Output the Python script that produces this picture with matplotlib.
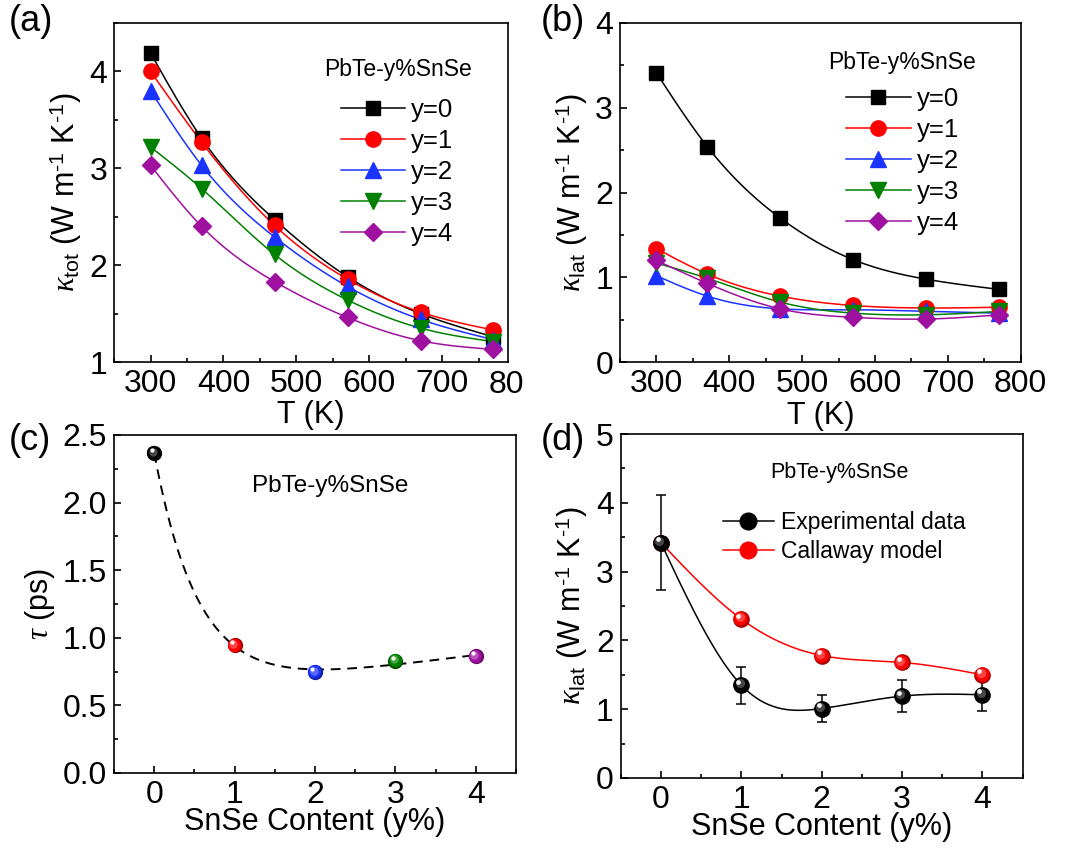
import numpy as np
import matplotlib
matplotlib.use("Agg")
import matplotlib.pyplot as plt
from matplotlib.transforms import ScaledTranslation, Bbox, blended_transform_factory
from matplotlib.ticker import MultipleLocator

plt.rcParams['font.family'] = ['Liberation Sans', 'DejaVu Sans']
plt.rcParams['mathtext.fontset'] = 'custom'
plt.rcParams['mathtext.rm'] = 'Liberation Sans'
plt.rcParams['mathtext.it'] = 'Liberation Serif:italic'
plt.rcParams['mathtext.bf'] = 'Liberation Sans:bold'

# ---------------- data ----------------
T = [300, 370, 470, 570, 670, 770]
series_labels = ['y=0', 'y=1', 'y=2', 'y=3', 'y=4']
k_tot = [
    [4.19, 3.31, 2.47, 1.88, 1.50, 1.26],
    [4.00, 3.27, 2.41, 1.855, 1.515, 1.33],
    [3.80, 3.03, 2.29, 1.78, 1.44, 1.23],
    [3.22, 2.79, 2.11, 1.64, 1.35, 1.21],
    [3.03, 2.40, 1.83, 1.46, 1.22, 1.13],
]
k_lat = [
    [3.41, 2.54, 1.70, 1.21, 0.98, 0.86],
    [1.34, 1.04, 0.78, 0.67, 0.64, 0.65],
    [1.02, 0.78, 0.63, 0.62, 0.60, 0.58],
    [1.17, 0.99, 0.71, 0.58, 0.56, 0.60],
    [1.20, 0.93, 0.63, 0.53, 0.51, 0.56],
]
content = [0, 1, 2, 3, 4]
tau = [2.365, 0.943, 0.746, 0.828, 0.862]
k_exp = [3.42, 1.35, 1.01, 1.19, 1.21]
k_exp_err = [0.69, 0.27, 0.20, 0.23, 0.24]
k_callaway = [3.42, 2.31, 1.78, 1.68, 1.50]

colors = ['#000000', '#FF0000', '#1A33FF', '#008000', '#A010A0']
markers = ['s', 'o', '^', 'v', 'D']
msizes = [10, 11, 11, 11, 9.5]

TICK_FS = 23
LABEL_FS = 22
HY = '\u2010'  # hyphen for exponents
UNIT = r'(W m$^{\rm ' + HY + r'1}$ K$^{\rm ' + HY + r'1}$)'


def cspline(x, y, n=300):
    x = np.asarray(x, float); y = np.asarray(y, float)
    m = len(x); h = np.diff(x)
    A = np.zeros((m, m)); b = np.zeros(m)
    A[0, 0] = 1; A[-1, -1] = 1
    for i in range(1, m - 1):
        A[i, i - 1] = h[i - 1]; A[i, i] = 2 * (h[i - 1] + h[i]); A[i, i + 1] = h[i]
        b[i] = 3 * ((y[i + 1] - y[i]) / h[i] - (y[i] - y[i - 1]) / h[i - 1])
    c = np.linalg.solve(A, b)
    xs = np.linspace(x[0], x[-1], n)
    idx = np.clip(np.searchsorted(x, xs) - 1, 0, m - 2)
    dx = xs - x[idx]
    bc = (y[1:] - y[:-1]) / h - h * (2 * c[:-1] + c[1:]) / 3
    d = (c[1:] - c[:-1]) / (3 * h)
    ys = y[idx] + bc[idx] * dx + c[idx] * dx ** 2 + d[idx] * dx ** 3
    return xs, ys


def expfit(x, y, n=300):
    x = np.asarray(x, float); y = np.asarray(y, float)
    best = None
    for t in np.linspace(0.2, 3, 300):
        M = np.column_stack([np.exp(-x / t), np.ones_like(x), x])
        coef, *_ = np.linalg.lstsq(M, y, rcond=None)
        r = np.sum((M @ coef - y) ** 2)
        if best is None or r < best[0]:
            best = (r, t, coef)
    _, t, coef = best
    xs = np.linspace(x[0], x[-1], n)
    ys = coef[0] * np.exp(-xs / t) + coef[1] + coef[2] * xs
    return xs, ys


def lighten(c, f):
    rgb = np.array(matplotlib.colors.to_rgb(c))
    return tuple(rgb + (1 - rgb) * f)


def darken(c, f):
    rgb = np.array(matplotlib.colors.to_rgb(c))
    return tuple(rgb * (1 - f))


def sphere(ax, x, y, color, size, zorder=5):
    fig = ax.figure
    ax.plot(x, y, 'o', ms=size, color=darken(color, 0.35), mew=0, zorder=zorder)
    off0 = ax.transData + ScaledTranslation(-size * 0.05 / 72, size * 0.05 / 72, fig.dpi_scale_trans)
    ax.plot(x, y, 'o', ms=size * 0.85, color=color, mew=0, transform=off0, zorder=zorder + 0.05)
    off1 = ax.transData + ScaledTranslation(-size * 0.1 / 72, size * 0.1 / 72, fig.dpi_scale_trans)
    ax.plot(x, y, 'o', ms=size * 0.55, color=lighten(color, 0.35), mew=0, alpha=0.8,
            transform=off1, zorder=zorder + 0.1)
    off2 = ax.transData + ScaledTranslation(-size * 0.18 / 72, size * 0.2 / 72, fig.dpi_scale_trans)
    ax.plot(x, y, 'o', ms=size * 0.28, color='white', mew=0, alpha=0.95,
            transform=off2, zorder=zorder + 0.2)


def style(ax):
    ax.tick_params(which='both', direction='in', top=False, right=False, labelsize=TICK_FS,
                   width=1.2)
    ax.tick_params(which='major', length=5, pad=5)
    ax.tick_params(which='minor', length=3)
    for s in ax.spines.values():
        s.set_linewidth(1.2)


fig = plt.figure(figsize=(10.78, 8.51), dpi=100)
axa = fig.add_axes([0.1058, 0.5746, 0.3655, 0.3984])
axb = fig.add_axes([0.5751, 0.5742, 0.3717, 0.3990])
axc = fig.add_axes([0.1058, 0.0917, 0.3729, 0.3972])
axd = fig.add_axes([0.5758, 0.0858, 0.3729, 0.4042])

# ---- (a)
for i in range(5):
    xs, ys = cspline(T, k_tot[i])
    axa.plot(xs, ys, color=colors[i], lw=1.1, zorder=2)
    axa.plot(T, k_tot[i], linestyle='none', marker=markers[i], ms=msizes[i],
             color=colors[i], zorder=3)
for i in range(5):
    axa.plot([], [], color=colors[i], lw=1.1, marker=markers[i], ms=msizes[i],
             label=series_labels[i])
axa.set_xlim(250, 790)
axa.set_ylim(1, 4.5)
axa.xaxis.set_major_locator(MultipleLocator(100))
axa.xaxis.set_minor_locator(MultipleLocator(50))
axa.yaxis.set_major_locator(MultipleLocator(1))
axa.yaxis.set_minor_locator(MultipleLocator(0.5))
style(axa)
axa.set_xlabel('T (K)', fontsize=LABEL_FS, labelpad=1)
axa.set_ylabel(r'$\kappa_{\rm tot}$ ' + UNIT, fontsize=LABEL_FS, labelpad=4)
axa.text(0.72, 0.864, 'PbTe-y%SnSe', transform=axa.transAxes, fontsize=16.5,
         ha='center', va='center')
axa.legend(loc='upper left', bbox_to_anchor=(0.575, 0.778), frameon=False, fontsize=18.5,
           handlelength=2.5, handletextpad=0.25, labelspacing=0.27, borderpad=0,
           borderaxespad=0)
# the "800" tick label of panel (a) is partly hidden by panel (b) in the original
tr = blended_transform_factory(axa.transData, axa.transAxes)
t800 = axa.text(800, -0.025, '800', transform=tr, ha='center', va='top', fontsize=TICK_FS,
                clip_on=True)
t800.set_clip_box(Bbox.from_extents(0, 0, 523, 851))

# ---- (b)
for i in range(5):
    xs, ys = cspline(T, k_lat[i])
    axb.plot(xs, ys, color=colors[i], lw=1.1, zorder=2)
    axb.plot(T, k_lat[i], linestyle='none', marker=markers[i], ms=msizes[i],
             color=colors[i], zorder=3)
for i in range(5):
    axb.plot([], [], color=colors[i], lw=1.1, marker=markers[i], ms=msizes[i],
             label=series_labels[i])
axb.set_xlim(250, 800)
axb.set_ylim(0, 4)
axb.xaxis.set_major_locator(MultipleLocator(100))
axb.xaxis.set_minor_locator(MultipleLocator(50))
axb.yaxis.set_major_locator(MultipleLocator(1))
axb.yaxis.set_minor_locator(MultipleLocator(0.5))
style(axb)
axb.set_xlabel('T (K)', fontsize=LABEL_FS, labelpad=1)
axb.set_ylabel(r'$\kappa_{\rm lat}$ ' + UNIT, fontsize=LABEL_FS, labelpad=4)
axb.text(0.703, 0.884, 'PbTe-y%SnSe', transform=axb.transAxes, fontsize=16.5,
         ha='center', va='center')
axb.legend(loc='upper left', bbox_to_anchor=(0.565, 0.81), frameon=False, fontsize=18.5,
           handlelength=2.5, handletextpad=0.25, labelspacing=0.27, borderpad=0,
           borderaxespad=0)

# ---- (c)
xs, ys = expfit(content, tau)
axc.plot(xs, ys, color='black', lw=1.4, ls=(0, (5, 3.5)), zorder=2)
for i in range(5):
    sphere(axc, [content[i]], [tau[i]], colors[i], 11)
axc.set_xlim(-0.5, 4.5)
axc.set_ylim(0, 2.5)
axc.xaxis.set_major_locator(MultipleLocator(1))
axc.xaxis.set_minor_locator(MultipleLocator(0.5))
axc.yaxis.set_major_locator(MultipleLocator(0.5))
axc.yaxis.set_minor_locator(MultipleLocator(0.25))
axc.yaxis.set_major_formatter(matplotlib.ticker.FormatStrFormatter('%.1f'))
style(axc)
axc.set_xlabel('SnSe Content (y%)', fontsize=LABEL_FS, labelpad=-2)
axc.set_ylabel(r'$\tau$ (ps)', fontsize=LABEL_FS, labelpad=4)
axc.text(0.537, 0.85, 'PbTe-y%SnSe', transform=axc.transAxes, fontsize=17.5,
         ha='center', va='center')

# ---- (d)
xs, ys = cspline(content, k_exp)
axd.plot(xs, ys, color='black', lw=1.1, zorder=2)
axd.errorbar(content, k_exp, yerr=k_exp_err, fmt='none', ecolor='black', elinewidth=1.1,
             capsize=3.5, capthick=1.1, zorder=3)
xs, ys = cspline(content, k_callaway)
axd.plot(xs, ys, color='#FF0000', lw=1.1, zorder=2)
sphere(axd, content, k_exp, '#000000', 12, zorder=5)
sphere(axd, content, k_callaway, '#FF0000', 12, zorder=4)
axd.plot([], [], color='black', lw=1.1, marker='o', ms=12, label='Experimental data')
axd.plot([], [], color='#FF0000', lw=1.1, marker='o', ms=12, label='Callaway model')
axd.set_xlim(-0.5, 4.5)
axd.set_ylim(0, 5)
axd.xaxis.set_major_locator(MultipleLocator(1))
axd.xaxis.set_minor_locator(MultipleLocator(0.5))
axd.yaxis.set_major_locator(MultipleLocator(1))
axd.yaxis.set_minor_locator(MultipleLocator(0.5))
style(axd)
axd.set_xlabel('SnSe Content (y%)', fontsize=LABEL_FS, labelpad=-2)
axd.set_ylabel(r'$\kappa_{\rm lat}$ ' + UNIT, fontsize=LABEL_FS, labelpad=4)
axd.text(0.545, 0.887, 'PbTe-y%SnSe', transform=axd.transAxes, fontsize=15.5,
         ha='center', va='center')
axd.legend(loc='upper left', bbox_to_anchor=(0.255, 0.775), frameon=False, fontsize=16.5,
           handlelength=2.2, handletextpad=0.3, labelspacing=0.25, borderpad=0,
           borderaxespad=0)

# panel labels
fig.text(0.008, 0.995, '(a)', fontsize=26, va='top', ha='left')
fig.text(0.502, 0.995, '(b)', fontsize=26, va='top', ha='left')
fig.text(0.008, 0.503, '(c)', fontsize=26, va='top', ha='left')
fig.text(0.502, 0.503, '(d)', fontsize=26, va='top', ha='left')

fig.savefig('out.png', dpi=100)
